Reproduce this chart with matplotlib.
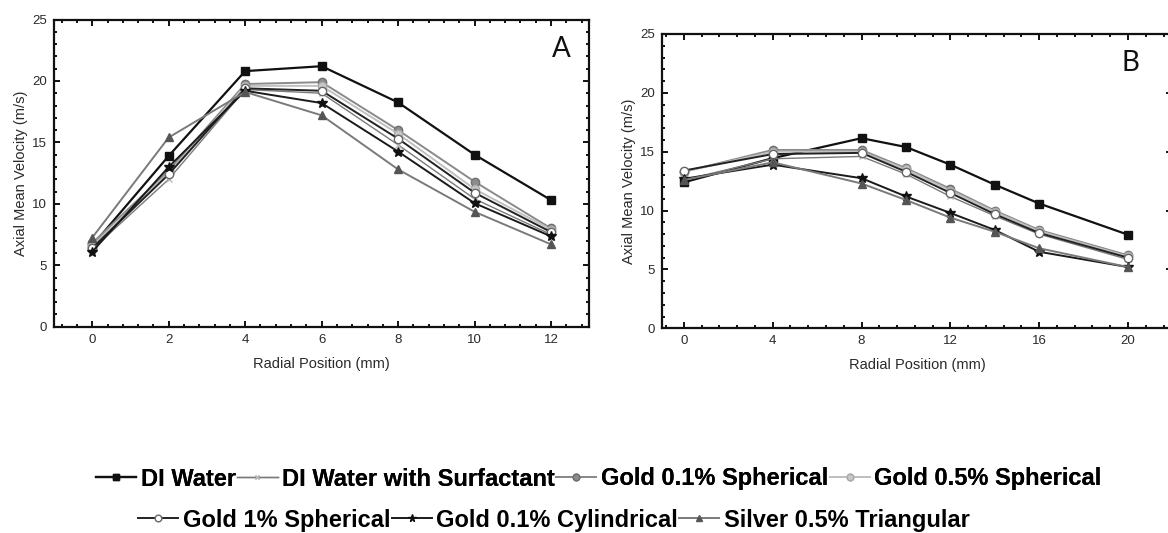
import numpy as np
import matplotlib
matplotlib.use("Agg")
import matplotlib.pyplot as plt
from matplotlib.ticker import MultipleLocator
from matplotlib.lines import Line2D

# radial positions (mm)
pos_a = [0, 2, 4, 6, 8, 10, 12]
pos_b = [0, 4, 8, 10, 12, 14, 16, 20]

# axial mean velocity (m/s), panel A
a_di_water = [6.6, 13.9, 20.8, 21.2, 18.25, 14.0, 10.3]
a_surfactant = [6.3, 12.0, 19.3, 19.0, 14.8, 10.4, 7.5]
a_gold01_sph = [6.8, 12.7, 19.75, 19.9, 16.0, 11.8, 8.0]
a_gold05_sph = [6.6, 12.5, 19.6, 19.6, 15.7, 11.2, 7.9]
a_gold1_sph = [6.4, 12.4, 19.4, 19.2, 15.3, 10.9, 7.7]
a_gold01_cyl = [6.1, 13.0, 19.2, 18.2, 14.25, 10.05, 7.35]
a_silver05_tri = [7.25, 15.4, 19.1, 17.2, 12.8, 9.35, 6.7]

# axial mean velocity (m/s), panel B
b_di_water = [12.4, 14.45, 16.15, 15.4, 13.9, 12.2, 10.6, 7.95]
b_surfactant = [12.6, 14.4, 14.6, 13.1, 11.2, 9.55, 8.0, 5.85]
b_gold01_sph = [13.3, 15.15, 15.15, 13.6, 11.85, 10.0, 8.35, 6.2]
b_gold05_sph = [13.3, 15.0, 15.0, 13.5, 11.7, 9.9, 8.25, 6.1]
b_gold1_sph = [13.4, 14.8, 14.9, 13.3, 11.5, 9.7, 8.1, 6.0]
b_gold01_cyl = [12.7, 13.9, 12.75, 11.2, 9.8, 8.35, 6.5, 5.2]
b_silver05_tri = [12.6, 14.1, 12.3, 10.9, 9.4, 8.2, 6.8, 5.2]

labels = ["DI Water", "DI Water with Surfactant", "Gold 0.1% Spherical",
          "Gold 0.5% Spherical", "Gold 1% Spherical", "Gold 0.1% Cylindrical",
          "Silver 0.5% Triangular"]

styles = [
    dict(color="#111111", lw=1.6, marker="s", ms=5.5, mfc="#111111", mec="#111111"),
    dict(color="#7a7a7a", lw=1.0, marker="x", ms=4, mfc="#bbbbbb", mec="#bbbbbb"),
    dict(color="#8a8a8a", lw=1.4, marker="o", ms=6, mfc="#8c8c8c", mec="#707070"),
    dict(color="#c0c0c0", lw=1.4, marker="o", ms=6, mfc="#c8c8c8", mec="#aaaaaa"),
    dict(color="#222222", lw=1.4, marker="o", ms=6, mfc="white", mec="#666666"),
    dict(color="#1a1a1a", lw=1.4, marker="*", ms=7, mfc="#111111", mec="#111111"),
    dict(color="#7a7a7a", lw=1.4, marker="^", ms=6, mfc="#555555", mec="#555555"),
]

series_a = [a_di_water, a_surfactant, a_gold01_sph, a_gold05_sph,
            a_gold1_sph, a_gold01_cyl, a_silver05_tri]
series_b = [b_di_water, b_surfactant, b_gold01_sph, b_gold05_sph,
            b_gold1_sph, b_gold01_cyl, b_silver05_tri]

plt.rcParams["font.family"] = ["Liberation Sans", "DejaVu Sans"]

fig = plt.figure(figsize=(11.68, 5.33), dpi=100)
W, H = 1168.0, 533.0

ax_a = fig.add_axes([54 / W, 1 - 326.7 / H, (589.3 - 54) / W, (326.7 - 19.5) / H])
ax_b = fig.add_axes([661.7 / W, 1 - 328.3 / H, (1172.4 - 661.7) / W, (328.3 - 34) / H])


def style_axis(ax, xmaj, xmin, xlim):
    ax.set_xlim(*xlim)
    ax.set_ylim(0, 25)
    ax.xaxis.set_major_locator(MultipleLocator(xmaj))
    ax.xaxis.set_minor_locator(MultipleLocator(xmin))
    ax.yaxis.set_major_locator(MultipleLocator(5))
    ax.yaxis.set_minor_locator(MultipleLocator(1))
    ax.tick_params(which="both", direction="in", top=True, right=True,
                   width=1.4, colors="#111111", labelcolor="#2a2a2a")
    ax.tick_params(which="major", length=4.5, labelsize=9.5, pad=5)
    ax.tick_params(which="minor", length=2.5)
    for sp in ax.spines.values():
        sp.set_linewidth(1.6)
        sp.set_color("#111111")
    ax.set_xlabel("Radial Position (mm)", fontsize=10.5, color="#2a2a2a", labelpad=8)
    ax.set_ylabel("Axial Mean Velocity (m/s)", fontsize=10.5, color="#2a2a2a", labelpad=3)


for ys, st in zip(series_a, styles):
    ax_a.plot(pos_a, ys, **st)
for ys, st in zip(series_b, styles):
    ax_b.plot(pos_b, ys, **st)

style_axis(ax_a, 2, 0.4, (-1, 13))
style_axis(ax_b, 4, 0.8, (-1, 22))

ax_a.text(0.965, 0.905, "A", transform=ax_a.transAxes, ha="right", va="center",
          fontsize=20, family=["Lato", "DejaVu Sans"], color="#111111")
ax_b.text(0.935, 0.9, "B", transform=ax_b.transAxes, ha="right", va="center",
          fontsize=20, family=["Lato", "DejaVu Sans"], color="#111111")

# legend in two rows below the panels
handles = [Line2D([], [], **{**st, "ms": st["ms"] * 0.8}) for st in styles]
legend_font = dict(family=["Liberation Sans Narrow", "Liberation Sans"],
                   weight="bold", size=17)
leg1 = fig.legend(handles[:4], labels[:4], loc="center", ncol=4,
                  bbox_to_anchor=(599 / W, 1 - 479 / H), frameon=False,
                  prop=legend_font, handlelength=1.7, handletextpad=0.2,
                  columnspacing=0.05, borderaxespad=0)
fig.add_artist(leg1)
fig.legend(handles[4:], labels[4:], loc="center", ncol=3,
           bbox_to_anchor=(554 / W, 1 - 520 / H), frameon=False,
           prop=legend_font, handlelength=1.7, handletextpad=0.2,
           columnspacing=0.05, borderaxespad=0)

fig.savefig("out.png", dpi=100)
